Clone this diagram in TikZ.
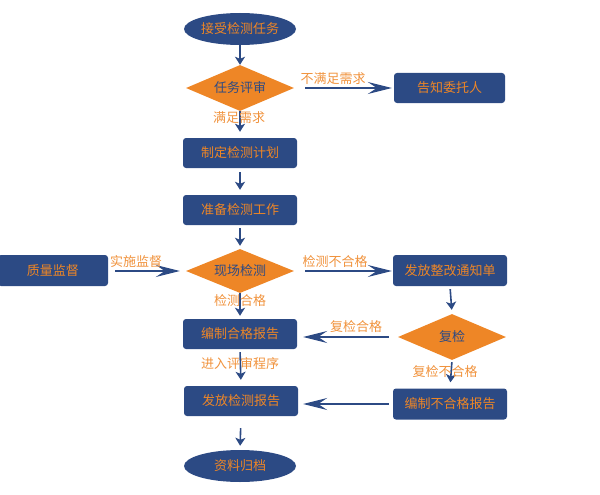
\documentclass[tikz,border=0pt]{standalone}
\usepackage{fontspec}
\setmainfont{Noto Sans CJK SC}
\usetikzlibrary{shapes.geometric,arrows.meta}
\definecolor{dblue}{RGB}{44,74,132}
\definecolor{orng}{RGB}{238,134,38}
\definecolor{lorng}{RGB}{240,146,60}
\tikzset{
  txt/.style={font=\fontsize{13}{15}\selectfont},
  rbox/.style={txt,draw=none,fill=dblue,text=orng,rounded corners=3pt,minimum width=114pt,minimum height=30pt,inner sep=0pt},
  ell/.style={txt,ellipse,fill=dblue,text=orng,minimum width=112pt,minimum height=32pt,inner sep=0pt},
  dia/.style={txt,diamond,aspect=2.35,fill=orng,text=dblue,minimum width=108pt,minimum height=46pt,inner sep=0pt},
  lbl/.style={txt,text=lorng,inner sep=0pt},
  varr/.style={draw=dblue,line width=1.6pt,-{Stealth[length=8pt,width=10pt,inset=2pt]}},
  harr/.style={draw=dblue,line width=1.8pt,-{Stealth[length=24pt,width=12pt,inset=9pt]}},
}
\begin{document}
\begin{tikzpicture}[x=1pt,y=-1pt]
\useasboundingbox (0,0) rectangle (600,495);
\node[ell] (e1) at (240,29) {接受检测任务};
\node[dia] (d1) at (240,88) {任务评审};
\node[rbox] (b1) at (240,153) {制定检测计划};
\node[rbox] (b2) at (240,210) {准备检测工作};
\node[dia,minimum height=44pt] (d2) at (240,271) {现场检测};
\node[rbox] (b3) at (240,334) {编制合格报告};
\node[rbox] (b4) at (241,401) {发放检测报告};
\node[ell] (e2) at (240,466) {资料归档};
\node[rbox,minimum width=111pt] (r1) at (449.5,88) {告知委托人};
\node[rbox,minimum width=110pt,minimum height=31pt] (q) at (53,270.5) {质量监督};
\node[rbox,minimum height=31pt] (r2) at (450,270.5) {发放整改通知单};
\node[dia] (d3) at (452,337) {复检};
\node[rbox,minimum height=31pt] (r3) at (450,404) {编制不合格报告};

\draw[varr] (e1.south) -- (d1.north);
\draw[varr,shorten >=6pt] (d1.south) -- (b1.north);
\draw[varr,shorten <=4pt,shorten >=5pt] (b1.south) -- (b2.north);
\draw[varr,shorten <=3pt,shorten >=3pt] (b2.south) -- (d2.north);
\draw[varr,shorten >=3pt] (d2.south) -- (b3.north);
\draw[varr,shorten <=3pt,shorten >=6pt] (b3.south) -- (b4.north);
\draw[varr,shorten <=12pt,shorten >=4pt] (b4.south) -- (e2.north);
\draw[varr,shorten <=3pt,shorten >=4pt] (r2.south) -- (d3.north);
\draw[varr,shorten <=2pt,shorten >=6pt] (d3.south) -- (r3.north);

\draw[harr,shorten <=11pt,shorten >=2pt] (d1.east) -- (r1.west);
\draw[harr,shorten <=7pt,shorten >=6pt] (q.east |- d2.west) -- (d2.west);
\draw[harr,shorten <=11pt,shorten >=1pt] (d2.east) -- (d2.east -| r2.west);
\draw[harr,shorten <=9pt,shorten >=6pt] (d3.west) -- (d3.west -| b3.east);
\draw[harr,shorten <=4pt,shorten >=5pt] (r3.west) -- (r3.west -| b4.east);

\node[lbl] (l1) at (239,118) {满足需求};
\node[lbl] (l2) at (240,301) {检测合格};
\node[lbl] (l3) at (240,364) {进入评审程序};
\node[lbl] (l4) at (445,372) {复检不合格};
\node[lbl] (l5) at (333,79) {不满足需求};
\node[lbl] (l6) at (136,262) {实施监督};
\node[lbl] (l7) at (335,262) {检测不合格};
\node[lbl] (l8) at (356,327) {复检合格};
\end{tikzpicture}
\end{document}
